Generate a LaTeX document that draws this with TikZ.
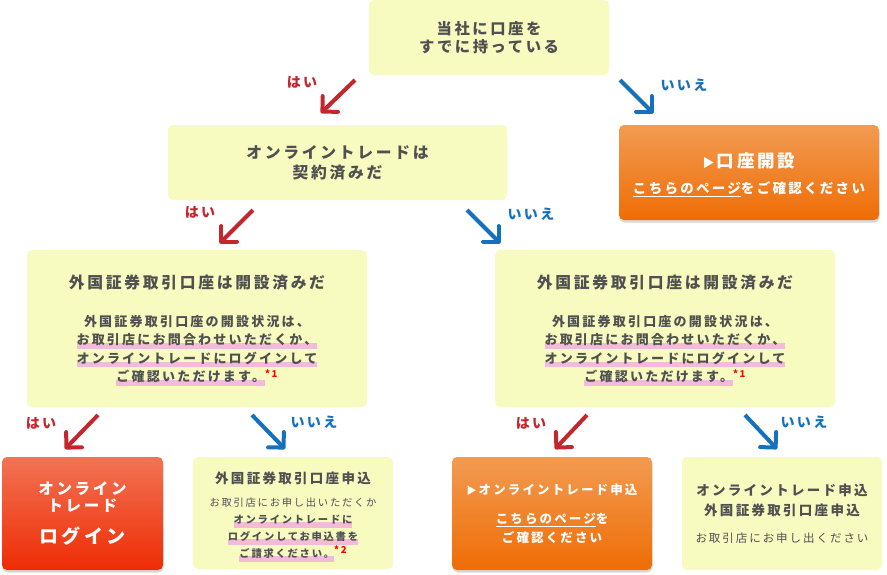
\documentclass[tikz,border=0pt]{standalone}
\usepackage{fontspec}
\newfontfamily\jpfont{Noto Sans CJK JP}[LetterSpace=17]
\usetikzlibrary{arrows.meta,shadows}

\definecolor{boxfill}{HTML}{F7FBC0}
\definecolor{txtgray}{HTML}{505050}
\definecolor{hlpink}{HTML}{F4BBD8}
\definecolor{yesred}{HTML}{C4262E}
\definecolor{noblue}{HTML}{1570BE}
\definecolor{orangetop}{HTML}{F29B52}
\definecolor{orangebot}{HTML}{EF6D05}
\definecolor{redtop}{HTML}{F27354}
\definecolor{redbot}{HTML}{EE2C05}

\newcommand\pinkhl[1]{\setbox0\hbox{#1}\rlap{\color{hlpink}\rule[-4pt]{\wd0}{5.5pt}}\box0}
\newcommand\linkul[1]{\setbox0\hbox{#1}\rlap{\color{white}\rule[-3.5pt]{\wd0}{0.8pt}}\box0}
\newcommand\noteref[1]{{\color{red}\fontsize{9.5}{9.5}\selectfont\raisebox{4.5pt}{#1}}}
\newcommand\gotri[1]{{\fontsize{#1}{#1}\selectfont ▶}\hspace{2pt}}

\tikzset{
  qbox/.style={rectangle, rounded corners=5pt, fill=boxfill, inner sep=0pt},
  gobox/.style={rectangle, rounded corners=5pt, top color=orangetop, bottom color=orangebot, inner sep=0pt,
    drop shadow={opacity=0.3, shadow xshift=0.5pt, shadow yshift=-2.5pt}},
  loginbox/.style={gobox, top color=redtop, bottom color=redbot},
  qtext/.style={text=txtgray, align=center, font=\jpfont\bfseries},
  gotext/.style={text=white, align=center, font=\jpfont\bfseries},
  yesarrow/.style={draw=yesred, line width=4pt, -{Straight Barb[length=11pt,width=22pt,round]}},
  noarrow/.style={yesarrow, draw=noblue},
  yeslbl/.style={text=yesred, font=\jpfont\bfseries\fontsize{14}{14}\selectfont},
  nolbl/.style={yeslbl, text=noblue},
}

\begin{document}
\begin{tikzpicture}[x=1pt, y=-1pt]
\useasboundingbox (0,0) rectangle (887,574);

  % questions
  \node[qbox, minimum width=240pt, minimum height=75pt] (q-own) at (489,37.5) {}; %
  \node[qbox, minimum width=339pt, minimum height=75pt] (q-contract) at (337.5,162.5) {}; %
  \node[qbox, minimum width=340pt, minimum height=157pt] (q-forA) at (197,328.5) {}; %
  \node[qbox, minimum width=340pt, minimum height=157pt] (q-forB) at (665,328.5) {}; %

  % answers
  \node[gobox, minimum width=260pt, minimum height=95pt] (go-open) at (749,172.5) {}; %
  \node[loginbox, minimum width=161pt, minimum height=113pt] (go-login) at (82.5,513.5) {}; %
  \node[qbox, minimum width=200pt, minimum height=112pt] (a-apply) at (293,513) {}; %
  \node[gobox, minimum width=200pt, minimum height=113pt] (go-online) at (552,513.5) {}; %
  \node[qbox, minimum width=200pt, minimum height=113pt] (a-both) at (782,513.5) {}; %

  % texts
  \node[qtext, font=\jpfont\bfseries\fontsize{15.3}{18}\selectfont] (q-own-t) at (q-own)
    {当社に口座を\\すでに持っている}; %
  \node[qtext, font=\jpfont\bfseries\fontsize{15.8}{20}\selectfont] (q-contract-t) at (q-contract)
    {オンライントレードは\\契約済みだ}; %
  \node[qtext, font=\jpfont\bfseries\fontsize{13}{18.5}\selectfont, yshift=-1.5pt] (q-forA-t) at (q-forA)
    {{\fontsize{15.8}{15.8}\selectfont 外国証券取引口座は開設済みだ}\\[19.5pt]
     外国証券取引口座の開設状況は、\\
     \pinkhl{お取引店にお問合わせいただくか、}\\
     \pinkhl{オンライントレードにログインして}\\
     \pinkhl{ご確認いただけます。}\noteref{*1}}; %
  \node[qtext, font=\jpfont\bfseries\fontsize{13}{18.5}\selectfont, yshift=-1.5pt] (q-forB-t) at (q-forB)
    {{\fontsize{15.8}{15.8}\selectfont 外国証券取引口座は開設済みだ}\\[19.5pt]
     外国証券取引口座の開設状況は、\\
     \pinkhl{お取引店にお問合わせいただくか、}\\
     \pinkhl{オンライントレードにログインして}\\
     \pinkhl{ご確認いただけます。}\noteref{*1}}; %
  \node[gotext, font=\jpfont\bfseries\fontsize{13.5}{26}\selectfont, yshift=-2.5pt] (go-open-t) at (go-open)
    {\gotri{12}{\fontsize{17.5}{17.5}\selectfont 口座開設}\\
     \linkul{こちらのページ}をご確認ください}; %
  \node[gotext, font=\jpfont\bfseries\fontsize{15.5}{17}\selectfont] (go-login-t) at (go-login)
    {オンライン\\トレード\\[14pt]{\fontsize{19}{19}\selectfont ログイン}}; %
  \node[qtext, font=\jpfont\bfseries\fontsize{10.3}{17}\selectfont, yshift=-4pt] (a-apply-t) at (a-apply)
    {{\fontsize{13.5}{13.5}\selectfont 外国証券取引口座申込}\\[6pt]
     {\mdseries お取引店にお申し出いただくか}\\
     \pinkhl{オンライントレードに}\\
     \pinkhl{ログインしてお申込書を}\\
     \pinkhl{ご請求ください。}\noteref{*2}}; %
  \node[gotext, font=\jpfont\bfseries\fontsize{12.5}{19}\selectfont] (go-online-t) at (go-online)
    {\gotri{10}オンライントレード申込\\[10pt]
     \linkul{こちらのページ}を\\ご確認ください}; %
  \node[qtext, font=\jpfont\bfseries\fontsize{13.5}{20}\selectfont] (a-both-t) at (a-both)
    {オンライントレード申込\\外国証券取引口座申込\\[7pt]
     {\mdseries\fontsize{11.5}{11.5}\selectfont お取引店にお申し出ください}}; %

  % arrow ends
  \coordinate (own-yes-s) at (355,80); \coordinate (own-yes-e) at (321,113); %
  \coordinate (own-no-s) at (620,80); \coordinate (own-no-e) at (653,113); %
  \coordinate (con-yes-s) at (253,210); \coordinate (con-yes-e) at (220,243); %
  \coordinate (con-no-s) at (467,210); \coordinate (con-no-e) at (500,243); %
  \coordinate (forA-yes-s) at (98,415); \coordinate (forA-yes-e) at (65,449); %
  \coordinate (forA-no-s) at (252,415); \coordinate (forA-no-e) at (285,449); %
  \coordinate (forB-yes-s) at (587,415); \coordinate (forB-yes-e) at (555,449); %
  \coordinate (forB-no-s) at (745,415); \coordinate (forB-no-e) at (777,449); %

  % arrows
  \draw[yesarrow] (own-yes-s) -- (own-yes-e); %
  \draw[noarrow] (own-no-s) -- (own-no-e); %
  \draw[yesarrow] (con-yes-s) -- (con-yes-e); %
  \draw[noarrow] (con-no-s) -- (con-no-e); %
  \draw[yesarrow] (forA-yes-s) -- (forA-yes-e); %
  \draw[noarrow] (forA-no-s) -- (forA-no-e); %
  \draw[yesarrow] (forB-yes-s) -- (forB-yes-e); %
  \draw[noarrow] (forB-no-s) -- (forB-no-e); %

  % labels
  \node[yeslbl] (own-yes-l) at (302,82) {はい}; %
  \node[nolbl] (own-no-l) at (684,85) {いいえ}; %
  \node[yeslbl] (con-yes-l) at (200,212) {はい}; %
  \node[nolbl] (con-no-l) at (531,214) {いいえ}; %
  \node[yeslbl] (forA-yes-l) at (41,423) {はい}; %
  \node[nolbl] (forA-no-l) at (314,422) {いいえ}; %
  \node[yeslbl] (forB-yes-l) at (531,423) {はい}; %
  \node[nolbl] (forB-no-l) at (804,422) {いいえ}; %

\end{tikzpicture}
\end{document}
